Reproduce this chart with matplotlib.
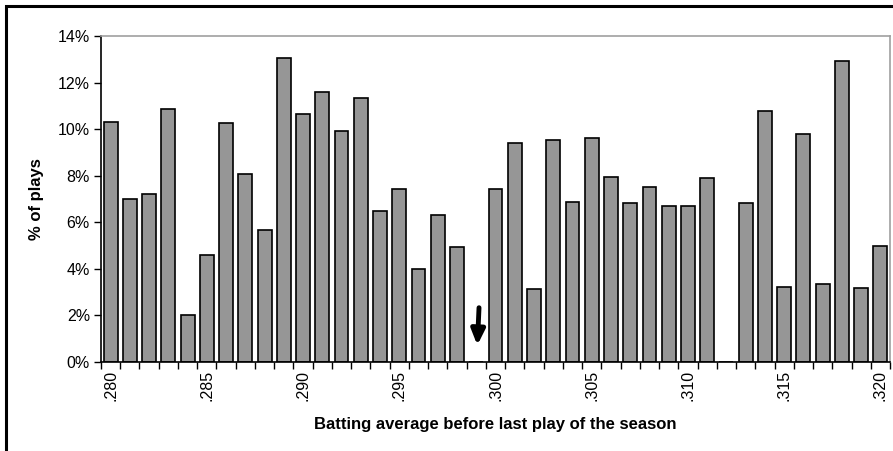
import numpy as np
import matplotlib.pyplot as plt
from matplotlib.patches import Rectangle

plt.rcParams['font.family'] = ['Liberation Sans', 'DejaVu Sans']

averages = ['.280', '.281', '.282', '.283', '.284', '.285', '.286', '.287', '.288', '.289',
            '.290', '.291', '.292', '.293', '.294', '.295', '.296', '.297', '.298', '.299',
            '.300', '.301', '.302', '.303', '.304', '.305', '.306', '.307', '.308', '.309',
            '.310', '.311', '.312', '.313', '.314', '.315', '.316', '.317', '.318', '.319',
            '.320']
pct_plays = [10.3, 7.0, 7.2, 10.86, 2.03, 4.6, 10.28, 8.09, 5.68, 13.07,
             10.66, 11.6, 9.9, 11.35, 6.5, 7.44, 3.98, 6.31, 4.92, 0.0,
             7.44, 9.4, 3.15, 9.52, 6.88, 9.6, 7.96, 6.83, 7.51, 6.68,
             6.68, 7.89, 0.0, 6.83, 10.8, 3.23, 9.77, 3.35, 12.94, 3.16,
             4.98]

fig = plt.figure(figsize=(8.93, 4.51), dpi=100)
ax = fig.add_axes([101/893, 1 - 362/451, 789/893, 326/451])

x = np.arange(len(averages))
ax.bar(x, pct_plays, width=0.72, color='#969696', edgecolor='black', linewidth=1.2)

# arrow pointing at the empty .299 slot
ax.annotate('', xy=(19.05, 0.6), xytext=(19.15, 2.45),
            arrowprops=dict(arrowstyle='-|>,head_length=0.9,head_width=0.4',
                            color='black', lw=3.5))

ax.set_xlim(-0.5, len(averages) - 0.5)
ax.set_ylim(0, 14)
ax.set_yticks(np.arange(0, 15, 2))
ax.set_yticklabels([f'{v}%' for v in range(0, 15, 2)], fontsize=11.5)

ax.set_xticks(x[::5])
ax.set_xticklabels(averages[::5], rotation=90, fontsize=11.5)
ax.tick_params(axis='x', length=0, pad=6)
ax.set_xticks(np.arange(-0.5, len(averages)), minor=True)
ax.tick_params(axis='x', which='minor', length=5, width=1, direction='out')
ax.tick_params(axis='y', length=5, width=1, direction='out', pad=3)

for s in ['top', 'right']:
    ax.spines[s].set_color('#a0a0a0')
    ax.spines[s].set_linewidth(1.2)
for s in ['left', 'bottom']:
    ax.spines[s].set_linewidth(1.2)

ax.set_ylabel('% of plays', fontsize=12, fontweight='bold', labelpad=10)
ax.set_xlabel('Batting average before last play of the season', fontsize=12,
              fontweight='bold', labelpad=11)

# outer chart frame (cropped on right/bottom)
fig.patches.append(Rectangle((6/893, -0.05), 1.0, 1 - 6/451 + 0.05, transform=fig.transFigure,
                             fill=False, edgecolor='black', linewidth=2.2))

fig.savefig('out.png', dpi=100)
